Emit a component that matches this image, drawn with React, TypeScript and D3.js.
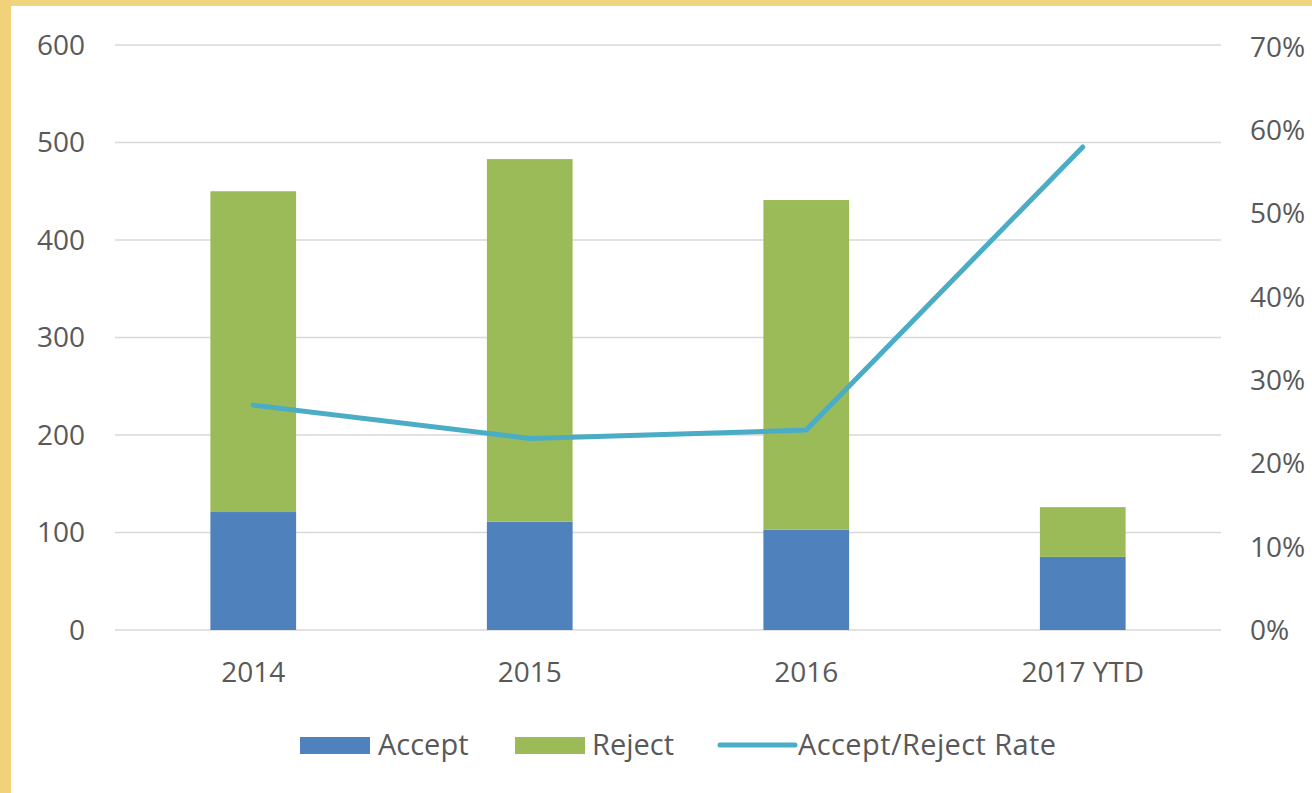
import * as d3 from "d3";
import { useEffect, useRef } from "react";

const categories = ["2014", "2015", "2016", "2017 YTD"];
const acceptValues = [121, 111, 103, 75];
const rejectValues = [329, 372, 338, 51];
const rateValues = [0.27, 0.23, 0.24, 0.58];
const leftTicks = [0, 100, 200, 300, 400, 500, 600];
const rightTicks = [0, 0.1, 0.2, 0.3, 0.4, 0.5, 0.6, 0.7];

const W = 1312;
const H = 793;
const plot = { left: 115, right: 1221, top: 45, bottom: 630 };
const font = "'Open Sans', sans-serif";
const textColor = "#595959";
const colors = { accept: "#4F81BD", reject: "#9BBB59", rate: "#4BACC6" };

function App() {
  const ref = useRef<SVGSVGElement>(null);

  useEffect(() => {
    const svg = d3.select(ref.current);
    svg.selectAll("*").remove();

    // frame
    svg.append("rect").attr("width", W).attr("height", H).attr("fill", "#fff");
    svg.append("rect").attr("width", W).attr("height", 6).attr("fill", "#F0D580");
    svg.append("rect").attr("width", 11).attr("height", H).attr("fill", "#F1D27A");

    const x = d3
      .scaleBand()
      .domain(categories)
      .range([plot.left, plot.right])
      .paddingInner(0.69)
      .paddingOuter(0.345);
    const y = d3.scaleLinear().domain([0, 600]).range([plot.bottom, plot.top]);
    const y2 = d3.scaleLinear().domain([0, 0.7]).range([plot.bottom, 47]);

    // gridlines
    svg
      .append("g")
      .selectAll("line")
      .data(leftTicks)
      .join("line")
      .attr("x1", plot.left)
      .attr("x2", plot.right)
      .attr("y1", (d) => y(d))
      .attr("y2", (d) => y(d))
      .attr("stroke", "#D9D9D9")
      .attr("stroke-width", 1.5);

    // left axis labels
    svg
      .append("g")
      .selectAll("text")
      .data(leftTicks)
      .join("text")
      .attr("x", 85)
      .attr("y", (d) => y(d))
      .attr("dy", "0.35em")
      .attr("text-anchor", "end")
      .attr("font-family", font)
      .attr("font-size", 28)
      .attr("fill", textColor)
      .text((d) => d);

    // right axis labels
    svg
      .append("g")
      .selectAll("text")
      .data(rightTicks)
      .join("text")
      .attr("x", 1250)
      .attr("y", (d) => y2(d))
      .attr("dy", "0.35em")
      .attr("font-family", font)
      .attr("font-size", 28)
      .attr("fill", textColor)
      .text((d) => d3.format(".0%")(d));

    // x labels
    svg
      .append("g")
      .selectAll("text")
      .data(categories)
      .join("text")
      .attr("x", (d) => (x(d) as number) + x.bandwidth() / 2)
      .attr("y", 672)
      .attr("dy", "0.35em")
      .attr("text-anchor", "middle")
      .attr("font-family", font)
      .attr("font-size", 28)
      .attr("fill", textColor)
      .text((d) => d);

    // stacked bars
    const rows = categories.map((c, i) => ({ c, accept: acceptValues[i], reject: rejectValues[i] }));
    const stack = d3.stack<any>().keys(["accept", "reject"])(rows);
    svg
      .append("g")
      .selectAll("g")
      .data(stack)
      .join("g")
      .attr("fill", (s) => (colors as any)[s.key])
      .selectAll("rect")
      .data((s) => s)
      .join("rect")
      .attr("x", (d) => x(d.data.c) as number)
      .attr("width", x.bandwidth())
      .attr("y", (d) => y(d[1]))
      .attr("height", (d) => y(d[0]) - y(d[1]));

    // rate line
    const line = d3
      .line<number>()
      .x((_, i) => (x(categories[i]) as number) + x.bandwidth() / 2)
      .y((d) => y2(d));
    svg
      .append("path")
      .datum(rateValues)
      .attr("d", line)
      .attr("fill", "none")
      .attr("stroke", colors.rate)
      .attr("stroke-width", 5)
      .attr("stroke-linejoin", "round")
      .attr("stroke-linecap", "round");

    // legend
    const lg = svg.append("g").attr("font-family", font).attr("font-size", 29).attr("fill", textColor);
    lg.append("rect").attr("x", 300).attr("y", 737).attr("width", 70).attr("height", 17).attr("fill", colors.accept);
    lg.append("text").attr("x", 378).attr("y", 745).attr("dy", "0.35em").text("Accept");
    lg.append("rect").attr("x", 515).attr("y", 737).attr("width", 70).attr("height", 17).attr("fill", colors.reject);
    lg.append("text").attr("x", 592).attr("y", 745).attr("dy", "0.35em").text("Reject");
    lg.append("line")
      .attr("x1", 720)
      .attr("x2", 795)
      .attr("y1", 745)
      .attr("y2", 745)
      .attr("stroke", colors.rate)
      .attr("stroke-width", 5)
      .attr("stroke-linecap", "round");
    lg.append("text")
      .attr("x", 798)
      .attr("y", 745)
      .attr("dy", "0.35em")
      .attr("letter-spacing", 0.4)
      .text("Accept/Reject Rate");
  }, []);

  return (
    <svg
      ref={ref}
      width={W}
      height={H}
      style={{ position: "absolute", left: 0, top: 0, display: "block" }}
    />
  );
}

export default App;
